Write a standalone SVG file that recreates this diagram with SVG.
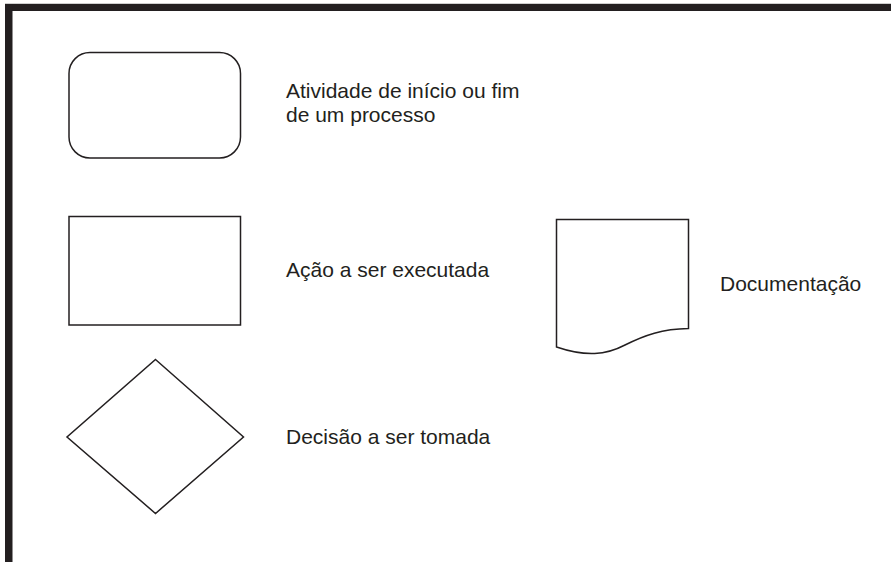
<svg xmlns="http://www.w3.org/2000/svg" width="891" height="562" viewBox="0 0 891 562">
<style>
.shape{fill:#ffffff;stroke:#231f20;stroke-width:1.5}
.lbl{font-family:"Liberation Sans",Arial,sans-serif;font-size:21px;fill:#231f20}
</style>
<rect x="0" y="0" width="891" height="562" fill="#ffffff"/>
<g id="frame">
<rect x="5" y="3" width="886" height="1" fill="#cfcfcf"/>
<rect x="5" y="4" width="886" height="7" fill="#231f20"/>
<rect x="5" y="4" width="7.5" height="558" fill="#231f20"/>
</g>
<g id="terminal">
<rect class="shape" x="69" y="52.5" width="171.5" height="105.5" rx="21" ry="21"/>
<text class="lbl" x="286" y="98">Atividade de início ou fim</text>
<text class="lbl" x="286" y="121.5">de um processo</text>
</g>
<g id="action">
<rect class="shape" x="69" y="216.5" width="171.5" height="108.5"/>
<text class="lbl" x="286" y="276.5">Ação a ser executada</text>
</g>
<g id="document">
<path class="shape" d="M556.5,219.5 H688.5 V328.5 C662,329 645,335 625,345 C606,355 586,357 556.5,347 Z"/>
<text class="lbl" x="720" y="290.5">Documentação</text>
</g>
<g id="decision">
<polygon class="shape" points="155.5,359.5 243.5,437 155.5,513.5 67,437"/>
<text class="lbl" x="286" y="443.5">Decisão a ser tomada</text>
</g>
<g id="connectors"></g>
</svg>
